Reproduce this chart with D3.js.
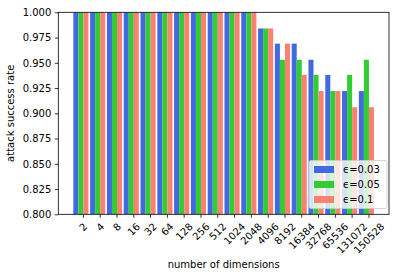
<!DOCTYPE html>
<html lang="en">
<head>
  <meta charset="UTF-8">
  <title>Attack success rate by number of dimensions</title>
  <style>
    body { margin: 0; background: #fff; }
    svg { display: block; font-family: "DejaVu Sans", sans-serif; }
  </style>
</head>
<body>
  <svg id="chart" width="399" height="279"></svg>

  <script src="https://d3js.org/d3.v7.min.js"></script>
  <script>
    // data
    const dims = ["2", "4", "8", "16", "32", "64", "128", "256", "512", "1024", "2048",
                  "4096", "8192", "16384", "32768", "65536", "131072", "150528"];
    const eps003 = [1, 1, 1, 1, 1, 1, 1, 1, 1, 1, 1, 0.984, 0.969, 0.969, 0.953, 0.938, 0.922, 0.922];
    const eps005 = [1, 1, 1, 1, 1, 1, 1, 1, 1, 1, 1, 0.984, 0.953, 0.953, 0.938, 0.922, 0.938, 0.953];
    const eps01  = [1, 1, 1, 1, 1, 1, 1, 1, 1, 1, 1, 0.984, 0.969, 0.938, 0.922, 0.922, 0.906, 0.906];
    const seriesNames = ["ϵ=0.03", "ϵ=0.05", "ϵ=0.1"];
    const seriesColors = ["#4169e1", "#32cd32", "#fa8072"];
    const yTicks = [0.800, 0.825, 0.850, 0.875, 0.900, 0.925, 0.950, 0.975, 1.000];

    const series = [eps003, eps005, eps01];
    const barW = 0.3;

    const plot = { left: 58.3, right: 389, top: 12.3, bottom: 214.3 };

    const svg = d3.select("#chart");

    const x = d3.scaleLinear()
      .domain([-0.895, dims.length - 1 + 3 * barW + 0.895])
      .range([plot.left, plot.right]);

    const y = d3.scaleLinear()
      .domain([0.8, 1.0])
      .range([plot.bottom, plot.top]);

    svg.append("defs").append("clipPath")
      .attr("id", "plot-clip")
      .append("rect")
      .attr("x", plot.left).attr("y", plot.top)
      .attr("width", plot.right - plot.left).attr("height", plot.bottom - plot.top);

    const bars = svg.append("g").attr("clip-path", "url(#plot-clip)");

    series.forEach((vals, s) => {
      bars.selectAll(".bar-" + s)
        .data(vals)
        .enter()
        .append("rect")
        .attr("class", "bar-" + s)
        .attr("x", (d, i) => x(i + s * barW))
        .attr("width", x(barW) - x(0))
        .attr("y", d => y(d))
        .attr("height", d => y(0.8) - y(d) + 2)
        .attr("fill", seriesColors[s]);
    });

    // y axis
    const yAxis = svg.append("g")
      .attr("transform", `translate(${plot.left},0)`)
      .call(d3.axisLeft(y).tickValues(yTicks).tickFormat(d3.format(".3f")).tickSizeOuter(0).tickSize(3.5).tickPadding(3.5));
    yAxis.select(".domain").remove();
    yAxis.selectAll("line").attr("stroke", "#000").attr("stroke-width", 0.8);
    yAxis.selectAll("text").attr("font-size", 10).attr("fill", "#000")
      .attr("font-family", "DejaVu Sans");

    // x axis ticks (tick at right edge of green bar)
    const xTickPos = dims.map((d, i) => x(i + 2 * barW));
    const xg = svg.append("g");
    xg.selectAll("line")
      .data(xTickPos)
      .enter()
      .append("line")
      .attr("x1", d => d).attr("x2", d => d)
      .attr("y1", plot.bottom).attr("y2", plot.bottom + 3.5)
      .attr("stroke", "#000").attr("stroke-width", 0.8);

    const labelTop = plot.bottom + 7;
    xg.selectAll("text")
      .data(dims)
      .enter()
      .append("text")
      .attr("font-size", 10)
      .attr("text-anchor", "middle")
      .attr("dominant-baseline", "central")
      .text(d => d)
      .each(function (d, i) {
        const w = this.getComputedTextLength();
        const side = (w + 10) / Math.SQRT2;
        const cx = xTickPos[i], cy = labelTop + side / 2;
        d3.select(this)
          .attr("x", cx).attr("y", cy)
          .attr("transform", `rotate(-45,${cx},${cy})`);
      });

    // spines
    svg.append("rect")
      .attr("x", plot.left).attr("y", plot.top)
      .attr("width", plot.right - plot.left).attr("height", plot.bottom - plot.top)
      .attr("fill", "none").attr("stroke", "#000").attr("stroke-width", 0.8);

    // axis labels
    svg.append("text")
      .attr("x", (plot.left + plot.right) / 2).attr("y", 268)
      .attr("text-anchor", "middle")
      .attr("font-size", 10)
      .text("number of dimensions");

    svg.append("text")
      .attr("transform", `translate(14,${(plot.top + plot.bottom) / 2}) rotate(-90)`)
      .attr("text-anchor", "middle")
      .attr("font-size", 10)
      .text("attack success rate");

    // legend
    const lg = svg.append("g").attr("transform", "translate(309,160.5)");
    lg.append("rect")
      .attr("width", 78).attr("height", 48).attr("rx", 2)
      .attr("fill", "#fff").attr("fill-opacity", 0.8)
      .attr("stroke", "#ccc").attr("stroke-width", 0.8);
    seriesNames.forEach((name, s) => {
      const row = lg.append("g").attr("transform", `translate(0,${9 + s * 15})`);
      row.append("rect")
        .attr("x", 5).attr("y", -3.5).attr("width", 20).attr("height", 7)
        .attr("fill", seriesColors[s]);
      row.append("text")
        .attr("x", 34).attr("y", 0)
        .attr("dominant-baseline", "central")
        .attr("font-size", 10)
        .text(name);
    });
  </script>
</body>
</html>
